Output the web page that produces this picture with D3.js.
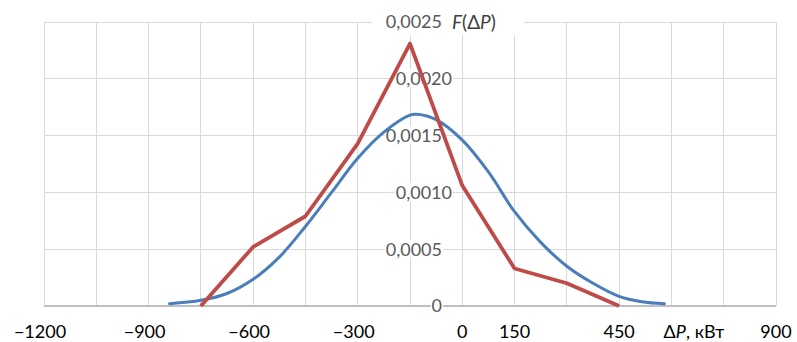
<!DOCTYPE html>
<html><head><meta charset="utf-8">
<script src="https://cdn.jsdelivr.net/npm/d3@7/dist/d3.min.js"></script>
<style>body{margin:0;background:#fff}svg{display:block}text{font-family:Lato,"Open Sans",sans-serif}</style>
</head><body>
<script>
// Data
const xGridValues = [-1200,-1050,-900,-750,-600,-450,-300,-150,0,150,300,450,600,750,900];
const xTickLabels = [-1200,-900,-600,-300,0,150,450,900];
const yTickValues = [0,0.0005,0.001,0.0015,0.002,0.0025];
const yTickLabels = ["0","0,0005","0,0010","0,0015","0,0020","0,0025"];

const blueX = [-840,-750,-675,-600,-525,-450,-375,-300,-225,-150,-130,-75,0,75,150,225,300,375,450,515,580];
const blueY = [0.00002,0.00005,0.00011,0.000235,0.00043,0.0007,0.001,0.0013,0.00153,0.00168,0.001687,0.00164,0.00146,0.00118,0.00083,0.00056,0.00035,0.0002,0.000085,0.000038,0.00002];

const redX = [-750,-600,-450,-300,-150,0,150,300,450];
const redY = [0,0.00052,0.00079,0.00143,0.00231,0.00106,0.00033,0.0002,0];

const W = 797, H = 342;
const svg = d3.select("body").append("svg").attr("width",W).attr("height",H);
const x = d3.scaleLinear().domain([-1200,900]).range([44,776]);
const y = d3.scaleLinear().domain([0,0.0025]).range([306,22]);

// gridlines
svg.append("g").selectAll("line").data(xGridValues).join("line")
  .attr("x1",d=>x(d)).attr("x2",d=>x(d)).attr("y1",y(0.0025)).attr("y2",y(0))
  .attr("stroke","#d9d9d9").attr("stroke-width",1).attr("shape-rendering","crispEdges");
svg.append("g").selectAll("line").data(yTickValues).join("line")
  .attr("x1",x(-1200)).attr("x2",x(900)).attr("y1",d=>y(d)).attr("y2",d=>y(d))
  .attr("stroke",d=>d===0?"#bfbfbf":"#d9d9d9").attr("stroke-width",d=>d===0?1.5:1).attr("shape-rendering","crispEdges");

// title box (white) at the top of y axis
svg.append("rect").attr("x",372).attr("y",0).attr("width",152).attr("height",35).attr("fill","#fff");

// y labels with white background
const yl = svg.append("g");
yTickValues.forEach((v,i)=>{
  const rx = (v===0.001||v===0.002) ? 452 : 442;
  const t = yl.append("text").attr("x",rx).attr("y",y(v)).attr("dy","0.36em")
    .attr("text-anchor","end").attr("font-size",18).attr("fill","#595959").text(yTickLabels[i]);
  const b = t.node().getBBox();
  yl.insert("rect","text").attr("x",b.x-1).attr("y",b.y+2).attr("width",b.width+2).attr("height",b.height-4).attr("fill","#fff");
});

// F(ΔP) title
const ft = svg.append("text").attr("x",452).attr("y",y(0.0025)).attr("dy","0.36em")
  .attr("font-size",19).attr("fill","#404040");
ft.append("tspan").attr("font-style","italic").text("F");
ft.append("tspan").text("(Δ");
ft.append("tspan").attr("font-style","italic").text("P");
ft.append("tspan").text(")");

// x labels
const fmt = v => v<0 ? "\u2212"+Math.abs(v) : String(v);
svg.append("g").selectAll("text").data(xTickLabels).join("text")
  .attr("x",d=>x(d) + (d<0?-4:0)).attr("y",338).attr("text-anchor","middle")
  .attr("font-size",18).attr("fill","#000").text(fmt);

const xt = svg.append("text").attr("x",694).attr("y",338).attr("text-anchor","middle")
  .attr("font-size",18).attr("fill","#000");
xt.append("tspan").text("Δ");
xt.append("tspan").attr("font-style","italic").text("P");
xt.append("tspan").text(", кВт");

// lines
const blue = blueX.map((d,i)=>[d,blueY[i]]);
const red = redX.map((d,i)=>[d,redY[i]]);
svg.append("path").datum(blue)
  .attr("d",d3.line().x(d=>x(d[0])).y(d=>y(d[1])).curve(d3.curveCatmullRom.alpha(0.5)))
  .attr("fill","none").attr("stroke","#4a7ebb").attr("stroke-width",3).attr("stroke-linecap","round");
svg.append("path").datum(red)
  .attr("d",d3.line().x(d=>x(d[0])).y(d=>y(d[1])))
  .attr("fill","none").attr("stroke","#be4b48").attr("stroke-width",3.8).attr("stroke-linejoin","round");
</script>
</body></html>
